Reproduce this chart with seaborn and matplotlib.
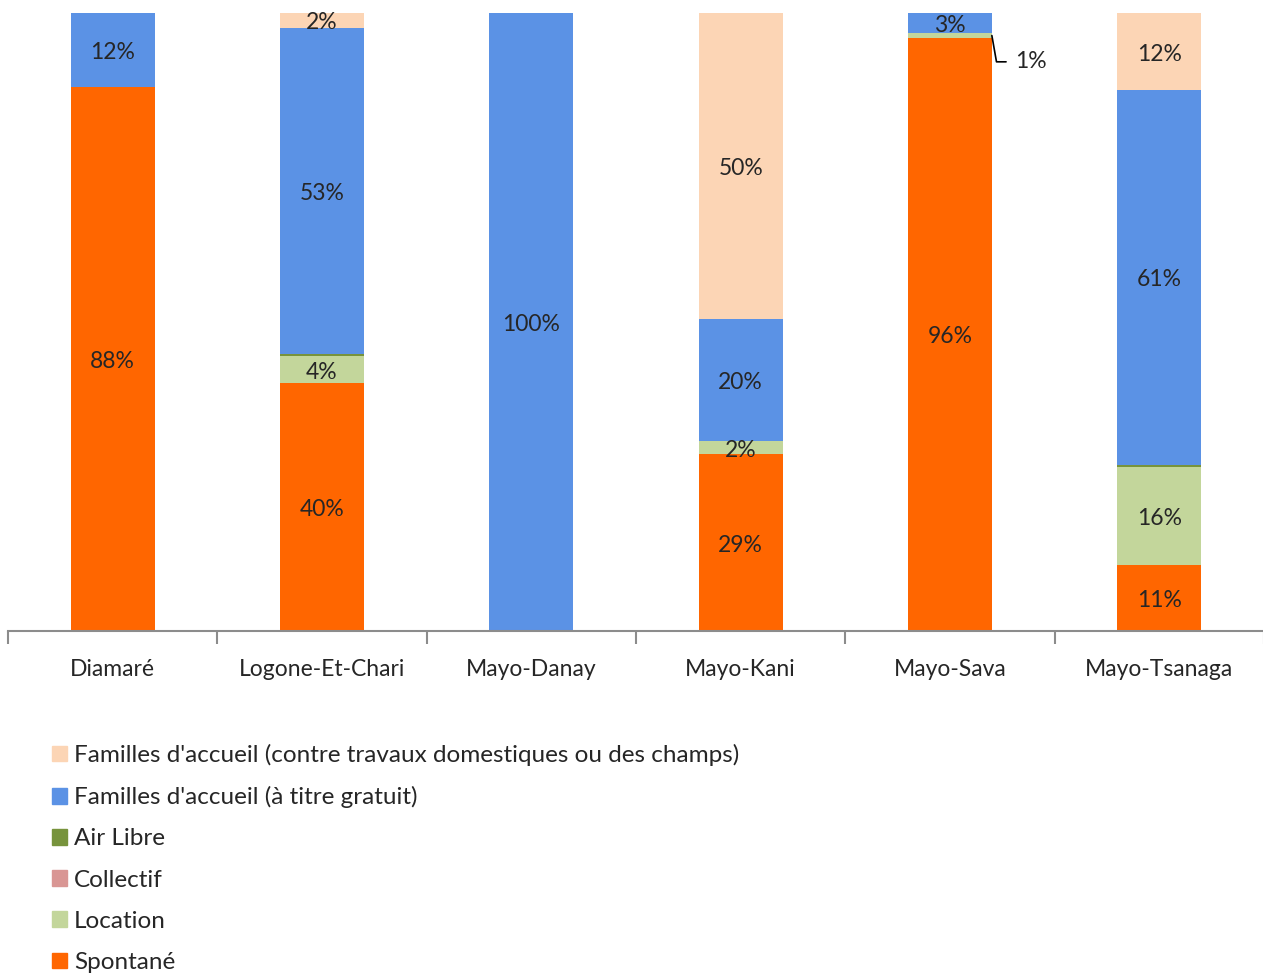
import numpy as np
import pandas as pd
import matplotlib
matplotlib.use("Agg")
import matplotlib.pyplot as plt
import seaborn as sns
from matplotlib.patches import Patch

# Données (en %)
departements = ['Diamaré', 'Logone-Et-Chari', 'Mayo-Danay', 'Mayo-Kani', 'Mayo-Sava', 'Mayo-Tsanaga']
spontane     = [88.0, 40.1, 0.0, 28.6, 96.0, 10.7]
location     = [0.0, 4.4, 0.0, 2.1, 0.7, 15.9]
collectif    = [0.0, 0.0, 0.0, 0.0, 0.0, 0.0]
air_libre    = [0.0, 0.3, 0.0, 0.0, 0.0, 0.3]
fam_gratuit  = [12.0, 52.8, 100.0, 19.8, 3.3, 60.6]
fam_travaux  = [0.0, 2.4, 0.0, 49.5, 0.0, 12.5]

series = ['Spontané', 'Location', 'Collectif', 'Air Libre',
          "Familles d'accueil (à titre gratuit)",
          "Familles d'accueil (contre travaux domestiques ou des champs)"]
valeurs = [spontane, location, collectif, air_libre, fam_gratuit, fam_travaux]
couleurs = ['#FF6600', '#C3D69B', '#D99694', '#77933C', '#5B92E5', '#FCD5B5']

sns.set_theme(style='white')
plt.rcParams['font.family'] = ['Lato', 'DejaVu Sans']

fig = plt.figure(figsize=(12.63, 9.73), dpi=100)
ax = fig.add_axes([8 / 1263, 342 / 973, 1256 / 1263, 618 / 973])

df = pd.DataFrame(dict(zip(series, valeurs)), index=departements)
cumul = df.cumsum(axis=1)

# barres empilées : on dessine les cumuls du haut vers le bas
for s, c in zip(series[::-1], couleurs[::-1]):
    d = pd.DataFrame({'dep': departements, 'val': cumul[s].values})
    sns.barplot(data=d, x='dep', y='val', color=c, width=0.4, ax=ax,
                saturation=1, errorbar=None, linewidth=0)

# étiquettes
for i, dep in enumerate(departements):
    bas = 0
    for s in series:
        v = df.loc[dep, s]
        if v >= 1.5:
            ax.text(i, bas + v / 2 - 0.4, f'{round(v):.0f}%', ha='center', va='center',
                    fontsize=16.5, color='#262626')
        bas += v

# petite part Location de Mayo-Sava
i_sava = departements.index('Mayo-Sava')
ax.annotate(f"{np.ceil(location[i_sava]):.0f}%",
            xy=(i_sava + 0.2, spontane[i_sava] + location[i_sava] / 2),
            xytext=(i_sava + 0.31, 92.1), fontsize=16.5, color='#262626',
            va='center', ha='left',
            arrowprops=dict(arrowstyle='-', color='black', lw=1.2,
                            connectionstyle='angle,angleA=0,angleB=100,rad=0',
                            shrinkA=4, shrinkB=0))

ax.set_xlim(-0.5, 5.5)
ax.set_ylim(0, 100)
ax.set_xlabel('')
ax.set_ylabel('')
ax.set_yticks([])
for sp in ['top', 'right', 'left']:
    ax.spines[sp].set_visible(False)
ax.spines['bottom'].set_color('#8C8C8C')
ax.spines['bottom'].set_linewidth(1.5)
ax.set_xticks(np.arange(len(departements)))
ax.set_xticklabels(departements, fontsize=16.5, color='#262626')
ax.set_xticks(np.arange(-0.5, 6, 1), minor=True)
ax.tick_params(axis='x', which='major', length=0, pad=20)
ax.tick_params(axis='x', which='minor', length=9, width=1.5, color='#8C8C8C',
               direction='out', bottom=True)

handles = [Patch(color=c, label=s) for s, c in zip(series[::-1], couleurs[::-1])]
leg = fig.legend(handles=handles, loc='upper left', bbox_to_anchor=(30 / 1263, 1 - 722 / 973),
                 frameon=False, handlelength=0.62, handleheight=0.62,
                 handletextpad=0.3, labelspacing=0.83, prop={'size': 17.5})
for t in leg.get_texts():
    t.set_color('#262626')

fig.savefig('out.png', dpi=100)
